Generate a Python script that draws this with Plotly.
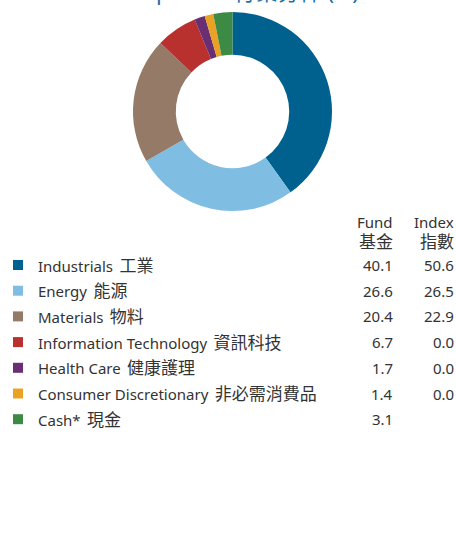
import plotly.graph_objects as go

sectors_en = ['Industrials', 'Energy', 'Materials', 'Information Technology',
              'Health Care', 'Consumer Discretionary', 'Cash*']
sectors_zh = ['工業', '能源', '物料', '資訊科技', '健康護理', '非必需消費品', '現金']
fund = [40.1, 26.6, 20.4, 6.7, 1.7, 1.4, 3.1]
index = ['50.6', '26.5', '22.9', '0.0', '0.0', '0.0', '']
colors = ['#00618f', '#7fbde2', '#957b67', '#b8312f', '#6a2e72', '#eaa224', '#3d8a45']

W, H = 456, 558
FONT = 'Noto Sans, Noto Sans CJK TC'
TXT = '#333333'
ROW0, STEP = 265, 25.7

labels = [f'{e} {z}' for e, z in zip(sectors_en, sectors_zh)]

fig = go.Figure()

fig.add_trace(go.Pie(
    values=fund, labels=labels, marker=dict(colors=colors, line=dict(width=0)),
    hole=0.57, sort=False, direction='clockwise', rotation=0,
    textinfo='none', hoverinfo='label+value', showlegend=False,
    domain=dict(x=[133 / W, 332 / W], y=[1 - 211 / H, 1 - 12 / H])))

rows = list(range(len(labels)))
fig.add_trace(go.Scatter(
    x=[18] * len(rows), y=rows, mode='markers',
    marker=dict(symbol='square', size=10, color=colors),
    hoverinfo='skip', showlegend=False))

annots = []
for i in rows:
    txt = f'{sectors_en[i]} \u2009<span style="font-size:17px">{sectors_zh[i]}</span>'
    annots.append(dict(x=36, y=i, text=txt, xanchor='left', showarrow=False,
                       font=dict(size=15, color=TXT)))
    annots.append(dict(x=395, y=i, text=f'{fund[i]:.1f}', xanchor='right', showarrow=False,
                       font=dict(size=15, color=TXT)))
    annots.append(dict(x=456, y=i, text=index[i], xanchor='right', showarrow=False,
                       font=dict(size=15, color=TXT)))

hdr1 = (222 - ROW0) / STEP
hdr2 = (241 - ROW0) / STEP
for xx, top, bot in [(395, 'Fund', '基金'), (456, 'Index', '指數')]:
    annots.append(dict(x=xx, y=hdr1, text=top, xanchor='right', showarrow=False,
                       font=dict(size=15, color=TXT)))
    annots.append(dict(x=xx, y=hdr2, text=bot, xanchor='right', showarrow=False,
                       font=dict(size=17, color=TXT)))

# title sits mostly above the visible area, only its lower edge shows
annots.append(dict(x=210, y=1, xref='x', yref='paper', yanchor='bottom', xanchor='center',
                   text='Sector Exposure 行業分佈 (%)', showarrow=False,
                   font=dict(size=22, color='#1f6ea6'), yshift=-8))

fig.update_layout(
    width=W, height=H, margin=dict(l=0, r=0, t=0, b=0),
    paper_bgcolor='white', plot_bgcolor='white',
    font=dict(family=FONT, color=TXT),
    xaxis=dict(range=[0, W], visible=False, fixedrange=True),
    yaxis=dict(range=[(H - ROW0) / STEP, -ROW0 / STEP], visible=False, fixedrange=True),
    annotations=annots)

fig.write_html('out.html', config={'displayModeBar': False},
               post_script="document.body.style.margin='0';document.body.style.overflow='hidden';")
